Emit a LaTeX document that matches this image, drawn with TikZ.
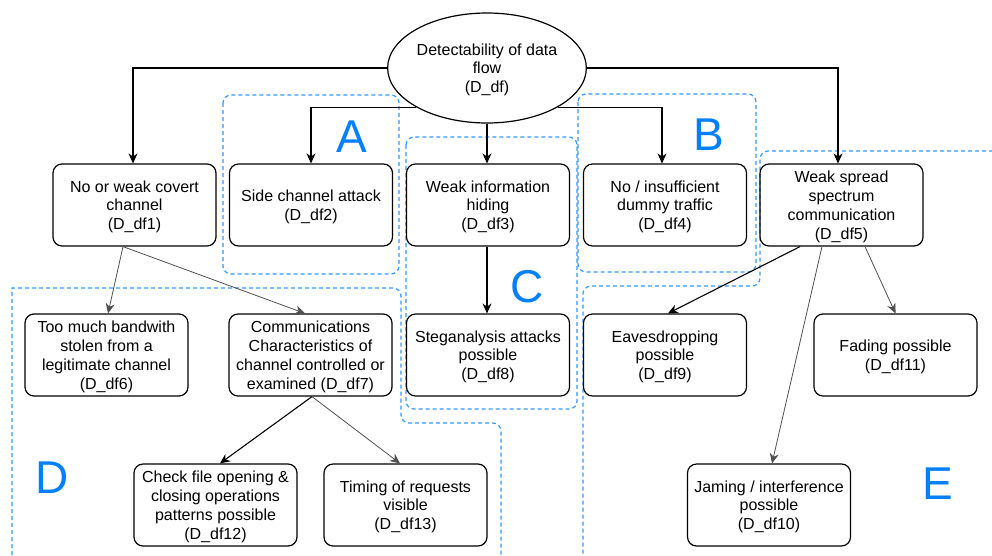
\documentclass[tikz,border=0pt]{standalone}
\usepackage{fontspec}
\setmainfont{Liberation Sans}
\usetikzlibrary{arrows.meta,shapes.geometric}
\definecolor{zoneblue}{RGB}{51,153,255}
\definecolor{letterblue}{RGB}{0,127,255}
\definecolor{linkgray}{RGB}{80,80,80}
\begin{document}
\begin{tikzpicture}[x=1pt,y=-1pt,
  box/.style={draw, rounded corners=9pt, line width=1.2pt, minimum width=163pt,
    minimum height=82pt, align=center, inner sep=0pt, text depth=-1.5pt,
    font=\fontsize{16}{18.8}\selectfont},
  root/.style={draw, ellipse, line width=1.2pt, minimum width=164pt,
    minimum height=110pt, align=center, inner sep=0pt, text depth=-2pt,
    font=\fontsize{16}{18.3}\selectfont},
  link/.style={line width=1.1pt, -{Stealth[length=10pt,width=9pt]}},
  thinlink/.style={line width=0.8pt, draw=linkgray, -{Stealth[length=10pt,width=9pt]}},
  zone/.style={draw=zoneblue, line width=1.2pt, dash pattern=on 4pt off 3pt},
  zonelabel/.style={text=letterblue, font=\fontsize{46}{46}\selectfont, inner sep=0pt}]
\useasboundingbox (0,0) rectangle (992,555);

% grouping zones
\draw[zone, rounded corners=8pt] (223,95) rectangle (399,274);
\draw[zone, rounded corners=8pt] (578,94) rectangle (756,272);
\draw[zone, rounded corners=8pt] (406,137) rectangle (577,409);
\draw[zone] (12,555) -- (12,288) [rounded corners=8pt] -- (401,288) -- (401,423) -- (501,423) -- (501,555);
\draw[zone, rounded corners=8pt] (1000,151) -- (760,151) -- (760,286) -- (583,286) -- (583,555);

\node[zonelabel] (lA) at (352,137) {A};
\node[zonelabel] (lB) at (709,135) {B};
\node[zonelabel] (lC) at (527,287) {C};
\node[zonelabel] (lD) at (52,478) {D};
\node[zonelabel] (lE) at (938,484) {E};

% root
\node[root] (top) at (487,68) {Detectability of data\\flow\\(D\_df)};

% first level
\node[box] (n1) at (134.5,205) {No or weak covert\\channel\\(D\_df1)};
\node[box] (n2) at (311,205) {Side channel attack\\(D\_df2)};
\node[box] (n3) at (488,205) {Weak information\\hiding\\(D\_df3)};
\node[box] (n4) at (665,205) {No / insufficient\\dummy traffic\\(D\_df4)};
\node[box] (n5) at (841.5,205) {Weak spread\\spectrum\\communication\\(D\_df5)};

% second level
\node[box] (n6) at (106.5,355) {Too much bandwith\\stolen from a\\legitimate channel\\(D\_df6)};
\node[box] (n7) at (310.5,355) {Communications\\Characteristics of\\channel controlled or\\examined (D\_df7)};
\node[box] (n8) at (488,355) {Steganalysis attacks\\possible\\(D\_df8)};
\node[box] (n9) at (665,355) {Eavesdropping\\possible\\(D\_df9)};
\node[box] (n11) at (895.5,355) {Fading possible\\(D\_df11)};

% third level
\node[box] (n12) at (215.5,505) {Check file opening \&\\closing operations\\patterns possible\\(D\_df12)};
\node[box] (n13) at (405.5,505) {Timing of requests\\visible\\(D\_df13)};
\node[box] (n10) at (769,505) {Jaming / interference\\possible\\(D\_df10)};

% connectors from the root
\draw[link] (top.west) -| ([xshift=-1.5pt]n1.north);
\draw[link] (top.east) -| ([xshift=-3.5pt]n5.north);
\draw[link] (top.south west) -| (n2.north);
\draw[link] (top.south east) -| ([xshift=-3pt]n4.north);
\draw[link] (top.south) -- ([xshift=-1pt]n3.north);

% lower connectors
\draw[thinlink] ([xshift=-11.5pt]n1.south) -- ([xshift=1.5pt]n6.north);
\draw[thinlink] ([xshift=-11.5pt]n1.south) -- ([xshift=-5.5pt]n7.north);
\draw[link] ([xshift=-1pt]n3.south) -- ([xshift=-1pt]n8.north);
\draw[link] ([xshift=-41.5pt]n5.south) -- ([xshift=3pt]n9.north);
\draw[thinlink] ([xshift=-19.5pt]n5.south) -- ([xshift=3pt]n10.north);
\draw[thinlink] ([xshift=23.5pt]n5.south) -- (n11.north);
\draw[link] ([xshift=1.5pt]n7.south) -- ([xshift=4.5pt]n12.north);
\draw[thinlink] ([xshift=1.5pt]n7.south) -- ([xshift=-5.5pt]n13.north);
\end{tikzpicture}
\end{document}
